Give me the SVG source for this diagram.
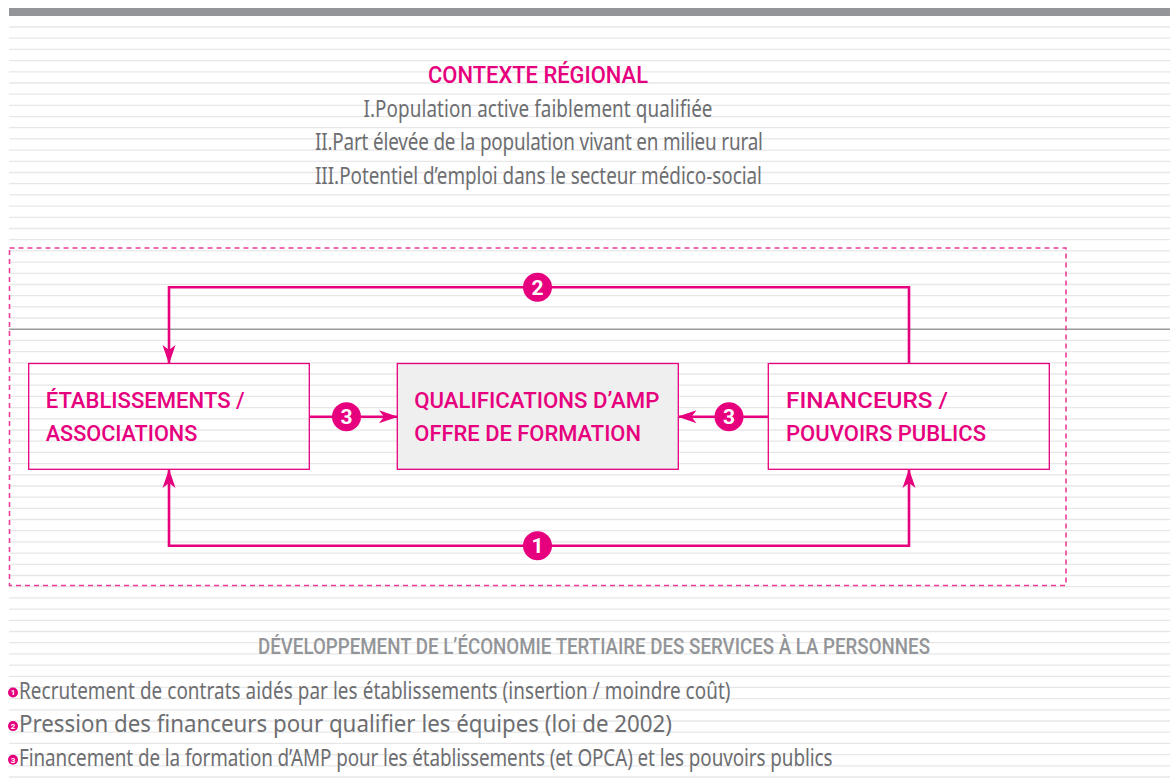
<svg xmlns="http://www.w3.org/2000/svg" width="1170" height="782" viewBox="0 0 1170 782">
<style>
.grid{stroke:#e7e7e8;stroke-width:1.3;fill:none}
.hd{font-family:Roboto,"Liberation Sans",sans-serif;font-weight:500;fill:#e6007e}
.body{font-family:"Noto Sans","Open Sans","Liberation Sans",sans-serif;fill:#6d6e71;font-size:23px}
.box{fill:none;stroke:#e6007e;stroke-width:1.3}
.conn{fill:none;stroke:#e6007e;stroke-width:2.6}
.badge{fill:#e6007e}
.bn{font-family:Roboto,"Liberation Sans",sans-serif;font-weight:700;fill:#fff;text-anchor:middle}
</style>
<defs>
<marker id="ah" viewBox="0 0 20 14" refX="19" refY="7" markerWidth="20" markerHeight="14" markerUnits="userSpaceOnUse" orient="auto-start-reverse">
<path d="M20,7 L1,0.5 L6,7 L1,13.5 Z" fill="#e6007e"/>
</marker>
</defs>
<rect width="1170" height="782" fill="#fff"/>
<rect x="9" y="8" width="1161" height="8" fill="#939598"/>
<path class="grid" d="M9,27H1170M9,38.2H1170M9,49.4H1170M9,60.6H1170M9,71.8H1170M9,83H1170M9,94.2H1170M9,105.4H1170M9,116.6H1170M9,127.7H1170M9,138.9H1170M9,150.1H1170M9,161.3H1170M9,172.5H1170M9,183.7H1170M9,194.9H1170M9,206.1H1170M9,217.3H1170M9,228.5H1170M9,239.7H1170M9,250.9H1170M9,262.1H1170M9,273.3H1170M9,284.5H1170M9,295.7H1170M9,306.9H1170M9,318H1170M9,340.4H1170M9,351.6H1170M9,362.8H1170M9,374H1170M9,385.2H1170M9,396.4H1170M9,407.6H1170M9,418.8H1170M9,430H1170M9,441.2H1170M9,452.4H1170M9,463.6H1170M9,474.8H1170M9,486H1170M9,497.1H1170M9,508.3H1170M9,519.5H1170M9,530.7H1170M9,541.9H1170M9,553.1H1170M9,564.3H1170M9,575.5H1170M9,586.7H1170M9,597.9H1170M9,609.1H1170M9,620.3H1170M9,631.5H1170M9,642.7H1170M9,653.9H1170M9,665.1H1170M9,676.3H1170M9,687.4H1170M9,698.6H1170M9,709.8H1170M9,721H1170M9,732.2H1170M9,743.4H1170M9,754.6H1170M9,765.8H1170M9,777H1170"/>
<line x1="9" y1="329.2" x2="1170" y2="329.2" stroke="#9a9a9c" stroke-width="1.4"/>

<g id="contexte">
<text class="hd" x="428" y="83" font-size="23.5" textLength="220" lengthAdjust="spacingAndGlyphs">CONTEXTE RÉGIONAL</text>
<text class="body" transform="translate(363.5 116.6) scale(0.82 1)" textLength="425.6" lengthAdjust="spacing">I.Population active faiblement qualifiée</text>
<text class="body" transform="translate(315 150.1) scale(0.82 1)" textLength="546.3" lengthAdjust="spacing">II.Part élevée de la population vivant en milieu rural</text>
<text class="body" transform="translate(315 183.7) scale(0.82 1)" textLength="545.1" lengthAdjust="spacing">III.Potentiel d’emploi dans le secteur médico-social</text>
</g>

<rect x="9.5" y="248" width="1056.5" height="337.5" fill="none" stroke="#ea3d96" stroke-width="1.6" stroke-dasharray="5,4"/>

<g id="connectors">
<path class="conn" d="M909,364 V287.3 H169 V363" marker-end="url(#ah)"/>
<path class="conn" d="M169,470 V545.7 H909 V470" marker-start="url(#ah)" marker-end="url(#ah)"/>
<path class="conn" d="M309.5,416.7 H397" marker-end="url(#ah)"/>
<path class="conn" d="M768,416.7 H678.5" marker-end="url(#ah)"/>
<circle class="badge" cx="537.5" cy="287.3" r="14.5"/>
<text class="bn" x="537.5" y="294.8" font-size="21">2</text>
<circle class="badge" cx="537.5" cy="545.7" r="14.5"/>
<text class="bn" x="537.5" y="553.2" font-size="21">1</text>
<circle class="badge" cx="346.5" cy="416.7" r="14.5"/>
<text class="bn" x="346.5" y="424.2" font-size="21">3</text>
<circle class="badge" cx="729" cy="416.7" r="14.5"/>
<text class="bn" x="729" y="424.2" font-size="21">3</text>
</g>

<g id="etablissements">
<rect class="box" x="28.7" y="363.5" width="280.6" height="105.8"/>
<text class="hd" x="45.7" y="407.6" font-size="21.5" textLength="199" lengthAdjust="spacingAndGlyphs">ÉTABLISSEMENTS /</text>
<text class="hd" x="45.7" y="441.2" font-size="21.5" textLength="151.6" lengthAdjust="spacingAndGlyphs">ASSOCIATIONS</text>
</g>

<g id="qualifications">
<rect x="397.3" y="363.5" width="281" height="105.8" fill="#efefef" stroke="#e6007e" stroke-width="1.3"/>
<text class="hd" x="414.3" y="407.6" font-size="21.5" textLength="245" lengthAdjust="spacingAndGlyphs">QUALIFICATIONS D’AMP</text>
<text class="hd" x="414.3" y="441.2" font-size="21.5" textLength="226.7" lengthAdjust="spacingAndGlyphs">OFFRE DE FORMATION</text>
</g>

<g id="financeurs">
<rect class="box" x="768.3" y="363.5" width="281" height="105.8"/>
<text class="hd" x="786" y="407.6" font-size="21.5" textLength="162" lengthAdjust="spacingAndGlyphs">FINANCEURS /</text>
<text class="hd" x="786" y="441.2" font-size="21.5" textLength="200" lengthAdjust="spacingAndGlyphs">POUVOIRS PUBLICS</text>
</g>

<g id="developpement">
<text class="hd" x="258" y="653.9" font-size="21.5" style="fill:#939598" textLength="672" lengthAdjust="spacingAndGlyphs">DÉVELOPPEMENT DE L’ÉCONOMIE TERTIAIRE DES SERVICES À LA PERSONNES</text>
</g>

<g id="legende">
<circle class="badge" cx="13" cy="692.5" r="5"/>
<text class="bn" x="13" y="695.4" font-size="8">1</text>
<text class="body" transform="translate(19 698.6) scale(0.82 1)" textLength="867.7" lengthAdjust="spacing">Recrutement de contrats aidés par les établissements (insertion / moindre coût)</text>
<circle class="badge" cx="13" cy="726.1" r="5"/>
<text class="bn" x="13" y="729" font-size="8">2</text>
<text class="body" transform="translate(19 732.2) scale(0.82 1)" textLength="796.3" lengthAdjust="spacingAndGlyphs">Pression des financeurs pour qualifier les équipes (loi de 2002)</text>
<circle class="badge" cx="13" cy="759.7" r="5"/>
<text class="bn" x="13" y="762.6" font-size="8">3</text>
<text class="body" transform="translate(19 765.8) scale(0.82 1)" textLength="992.1" lengthAdjust="spacing">Financement de la formation d’AMP pour les établissements (et OPCA) et les pouvoirs publics</text>
</g>
</svg>
